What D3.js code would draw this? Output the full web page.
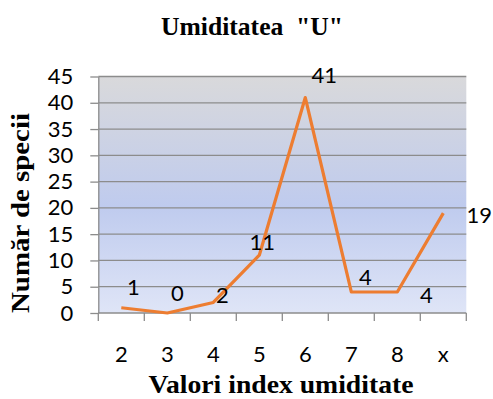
<!DOCTYPE html>
<html>
<head>
<meta charset="utf-8">
<script src="https://cdn.jsdelivr.net/npm/d3@7"></script>
<style>
  html, body { margin: 0; padding: 0; background: #fff; }
  svg { display: block; }
</style>
</head>
<body>
<svg id="chart" width="493" height="399"></svg>
<script>
// Humidity index categories and number of species per category
const categories = ["2", "3", "4", "5", "6", "7", "8", "x"];
const speciesCount = [1, 0, 2, 11, 41, 4, 4, 19];
const yTicks = [0, 5, 10, 15, 20, 25, 30, 35, 40, 45];

// Hand-placed data label offsets (dx, dy) from each point
const labelNudge = [[12, -21], [10, -21], [9, -8], [3, -14], [19, -23], [14, -15], [29, 3], [36, 1]];

const svg = d3.select("#chart");
const plot = { left: 98.3, right: 466.3, top: 76.5, bottom: 313 };

const numFont = "Lato, 'Open Sans', sans-serif";
const serifFont = "'Liberation Serif', serif";
const numSize = 22;

const x = d3.scaleBand().domain(categories).range([plot.left, plot.right]).paddingInner(0).paddingOuter(0);
const y = d3.scaleLinear().domain([0, 45]).range([plot.bottom, plot.top]);

// Plot area gradient fill
const defs = svg.append("defs");
const grad = defs.append("linearGradient").attr("id", "bg").attr("x1", 0).attr("y1", 0).attr("x2", 0).attr("y2", 1);
grad.append("stop").attr("offset", "0%").attr("stop-color", "#d9d9db");
grad.append("stop").attr("offset", "55%").attr("stop-color", "#bfcbee");
grad.append("stop").attr("offset", "100%").attr("stop-color", "#dfe5f7");

svg.append("rect")
  .attr("x", plot.left).attr("y", plot.top)
  .attr("width", plot.right - plot.left).attr("height", plot.bottom - plot.top)
  .attr("fill", "url(#bg)");

// Horizontal gridlines
svg.append("g").selectAll("line").data(yTicks.filter(d => d > 0)).join("line")
  .attr("x1", plot.left).attr("x2", plot.right)
  .attr("y1", d => y(d)).attr("y2", d => y(d))
  .attr("stroke", "#8c8c8c").attr("stroke-width", 1.3);

// Y axis
const yAxis = svg.append("g").attr("transform", `translate(${plot.left},0)`)
  .call(d3.axisLeft(y).tickValues(yTicks).tickSize(8).tickPadding(17).tickSizeOuter(0));
yAxis.select(".domain").attr("stroke", "#8c8c8c").attr("stroke-width", 1.3);
yAxis.selectAll(".tick line").attr("stroke", "#8c8c8c").attr("stroke-width", 1.3);
yAxis.selectAll(".tick text").attr("font-family", numFont).attr("font-size", numSize).attr("fill", "#000");

// X axis with ticks at category boundaries
const bounds = categories.map(c => x(c)).concat([plot.right]);
svg.append("line")
  .attr("x1", plot.left).attr("x2", plot.right)
  .attr("y1", plot.bottom).attr("y2", plot.bottom)
  .attr("stroke", "#8c8c8c").attr("stroke-width", 1.3);
svg.append("g").selectAll("line").data(bounds).join("line")
  .attr("x1", d => d).attr("x2", d => d)
  .attr("y1", plot.bottom).attr("y2", plot.bottom + 8)
  .attr("stroke", "#8c8c8c").attr("stroke-width", 1.3);
svg.append("g").selectAll("text").data(categories).join("text")
  .attr("x", d => x(d) + x.bandwidth() / 2)
  .attr("y", 362)
  .attr("text-anchor", "middle")
  .attr("font-family", numFont).attr("font-size", numSize).attr("fill", "#000")
  .text(d => d);

// Data line
const pts = categories.map((c, i) => [x(c) + x.bandwidth() / 2, y(speciesCount[i])]);
svg.append("path")
  .attr("d", d3.line()(pts))
  .attr("fill", "none")
  .attr("stroke", "#ed7d31")
  .attr("stroke-width", 3.2)
  .attr("stroke-linejoin", "round");

// Data labels
svg.append("g").selectAll("text").data(speciesCount).join("text")
  .attr("x", (d, i) => pts[i][0] + labelNudge[i][0])
  .attr("y", (d, i) => pts[i][1] + labelNudge[i][1])
  .attr("text-anchor", "middle")
  .attr("dominant-baseline", "central")
  .attr("font-family", numFont).attr("font-size", numSize).attr("fill", "#000")
  .text(d => d);

// Titles
function fitText(sel, width) {
  sel.attr("textLength", width).attr("lengthAdjust", "spacingAndGlyphs");
}
svg.append("text")
  .attr("x", 252).attr("y", 35)
  .attr("text-anchor", "middle")
  .attr("font-family", serifFont).attr("font-weight", "bold").attr("font-size", 25)
  .attr("xml:space", "preserve")
  .text('Umiditatea  "U"')
  .call(fitText, 182);

svg.append("text")
  .attr("x", 281).attr("y", 393)
  .attr("text-anchor", "middle")
  .attr("font-family", serifFont).attr("font-weight", "bold").attr("font-size", 25)
  .text("Valori index umiditate")
  .call(fitText, 265);

svg.append("text")
  .attr("transform", "translate(29,213) rotate(-90)")
  .attr("text-anchor", "middle")
  .attr("font-family", serifFont).attr("font-weight", "bold").attr("font-size", 25)
  .text("Număr de specii")
  .call(fitText, 200);
</script>
</body>
</html>
